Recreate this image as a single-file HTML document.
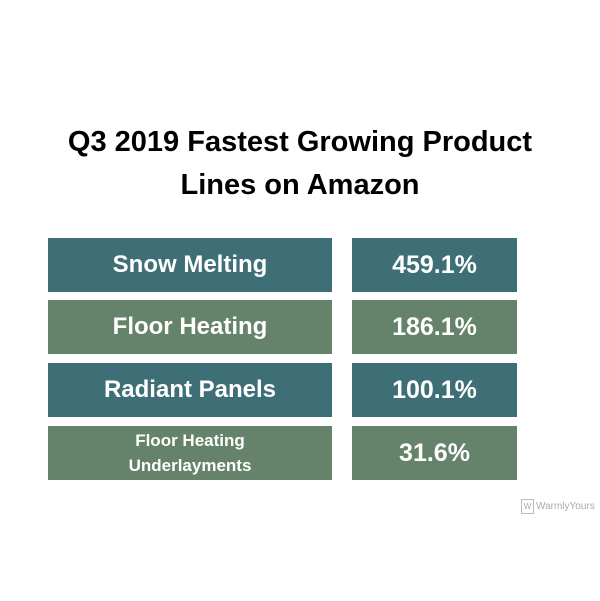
<!DOCTYPE html>
<html><head><meta charset="utf-8"><style>
body{margin:0;width:600px;height:601px;background:#fff;font-family:"Liberation Sans",sans-serif;position:relative;overflow:hidden}
.t{position:absolute;left:0;width:600px;text-align:center;font-weight:bold;font-size:29px;color:#000}
.b{position:absolute;color:#fff;font-weight:bold;display:flex;align-items:center;justify-content:center;text-align:center}
.teal{background:#3e6f77}.green{background:#65826a}
</style></head><body>
<div class="t" style="top:126px">Q3 2019 Fastest Growing Product</div>
<div class="t" style="top:169px">Lines on Amazon</div>
<div id="rows"></div>
<div style="position:absolute;left:521px;top:499px;font-size:10px;color:#aaa;display:flex;align-items:center"><span style="display:inline-block;width:11px;height:13px;border:1px solid #bbb;margin-right:2px;font-size:8px;line-height:13px;text-align:center">W</span>WarmlyYours</div>
<script>
const categories=["Snow Melting","Floor Heating","Radiant Panels","Floor Heating<br>Underlayments"];
const values=["459.1%","186.1%","100.1%","31.6%"];
const tops=[238,300,363,426];
const rows=document.getElementById('rows');
categories.forEach((c,i)=>{
  const cls=i%2?'green':'teal';
  const a=document.createElement('div');
  a.className='b '+cls;
  
  
  a.style.cssText=`left:48px;top:${tops[i]}px;width:284px;height:54px;font-size:${i==3?17:24}px;line-height:${i==3?1.5:1}`;
  a.innerHTML=c;rows.appendChild(a);
  const b=document.createElement('div');
  b.className='b '+cls;
  
  
  b.style.cssText=`left:352px;top:${tops[i]}px;width:165px;height:54px;font-size:25px`;
  b.textContent=values[i];rows.appendChild(b);
});
</script>
</body></html>
